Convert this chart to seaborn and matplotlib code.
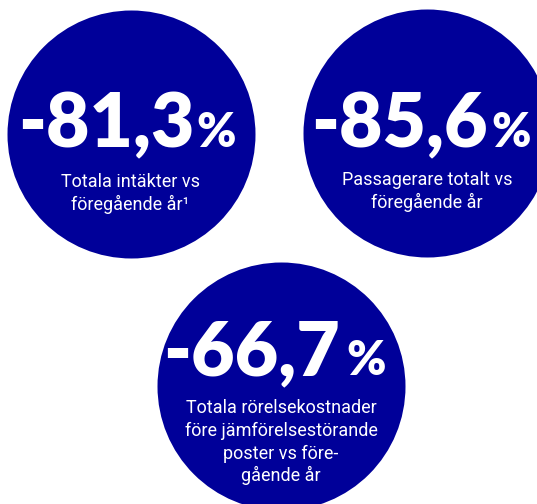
import matplotlib
matplotlib.use("Agg")
import matplotlib.pyplot as plt
import seaborn as sns
import pandas as pd

# ---- data ----
values = ["-81,3", "-85,6", "-66,7"]
unit = "%"
labels = [
    "Totala intäkter vs\nföregående år\u00b9",
    "Passagerare totalt vs\nföregående år",
    "Totala rörelsekostnader\nföre jämförelsestörande\nposter vs före-\ngående år",
]

# ---- layout (pixels) ----
centers_x = [130.5, 427, 281]
centers_y = [134, 133, 386]
radius = 124
num_baseline = [147, 147, 375]
num_right = [64, 61, 59]      # offset from centre of end of number
pct_left = [66, 64, 65]
label_baseline = [187, 185, 413]
line_gap = 22.8
blue = "#000099"

sns.set_theme(style="white")
W, H, DPI = 537, 504, 100
fig = plt.figure(figsize=(W / DPI, H / DPI), dpi=DPI)
ax = fig.add_axes([0, 0, 1, 1])

df = pd.DataFrame({"x": centers_x, "y": centers_y, "value": values})
diam_pt = 2 * radius * 72 / DPI
sns.scatterplot(data=df, x="x", y="y", s=diam_pt ** 2, color=blue,
                linewidth=0, ax=ax, legend=False)
ax.set_xlim(0, W)
ax.set_ylim(H, 0)
ax.axis("off")

big_font = ["Lato", "DejaVu Sans"]
small_font = ["Liberation Sans Narrow", "Roboto", "DejaVu Sans"]

for i, (v, lab) in enumerate(zip(values, labels)):
    cx = centers_x[i]
    ax.text(cx + num_right[i], num_baseline[i], v, ha="right", va="baseline",
            color="white", fontsize=54, fontweight="heavy", family=big_font)
    ax.text(cx + pct_left[i], num_baseline[i], unit, ha="left", va="baseline",
            color="white", fontsize=34, fontweight="heavy", family=big_font)
    for j, line in enumerate(lab.split("\n")):
        ax.text(cx, label_baseline[i] + j * line_gap, line, ha="center",
                va="baseline", color="white", fontsize=13, family=small_font)

fig.savefig("out.png", dpi=DPI, facecolor="white")
